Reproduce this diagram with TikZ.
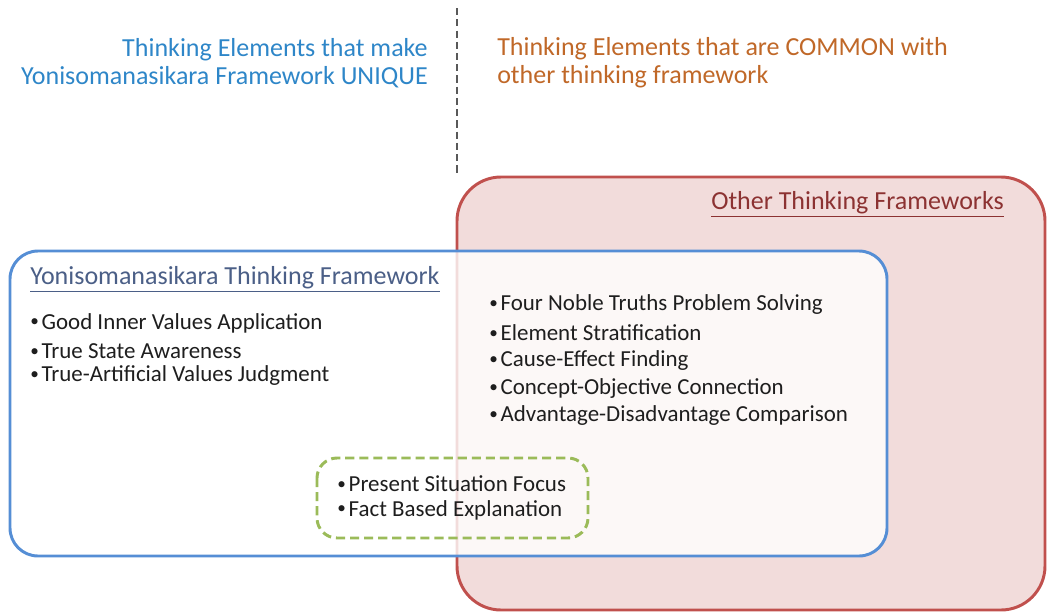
\documentclass[tikz,border=0pt]{standalone}
\usepackage{fontspec}
\setmainfont{Carlito}
\usepackage{tikz}
\usetikzlibrary{positioning}
\definecolor{headblue}{RGB}{46,134,200}
\definecolor{headbrown}{RGB}{192,104,40}
\definecolor{otherfill}{RGB}{242,220,219}
\definecolor{otherline}{RGB}{192,80,77}
\definecolor{othertitle}{RGB}{140,50,50}
\definecolor{yoniline}{RGB}{85,142,213}
\definecolor{yonititle}{RGB}{75,95,135}
\definecolor{sharedline}{RGB}{155,187,89}
\definecolor{itemtext}{RGB}{30,30,30}
\newcommand{\itm}[1]{\raisebox{0.1em}{\scalebox{0.75}{\textbullet}}\kern2pt#1}

\begin{document}
\begin{tikzpicture}[x=0.025cm,y=-0.025cm,
  every node/.style={font=\fontsize{18.5pt}{19.9pt}\selectfont,inner sep=0pt},
  item/.style={anchor=west,text=itemtext,font=\fontsize{16.3pt}{19pt}\selectfont}]
\useasboundingbox (0,0) rectangle (1047,612);
% divider and headings
\draw[black!65,line width=1.4pt,dash pattern=on 5pt off 3pt] (457,8) -- (457,175);
\node[anchor=east,text=headblue,align=right] (uniq) at (428,63)
  {Thinking Elements that make\\Yonisomanasikara Framework UNIQUE};
\node[anchor=west,text=headbrown,align=left] (comm) at (497,63)
  {Thinking Elements that are COMMON with\\other thinking framework};

% other frameworks
\draw[otherline,fill=otherfill,line width=2.1pt,rounded corners=1.1cm] (457,177) rectangle (1045,610);
\node[anchor=west,text=othertitle] (other) at (711,204) {\underline{Other Thinking Frameworks}};

% yonisomanasikara
\fill[white,opacity=0.8,rounded corners=0.7cm] (10,251) rectangle (887,556);
\draw[yoniline,line width=2.1pt,rounded corners=0.7cm] (10,251) rectangle (887,556);
\node[anchor=west,text=yonititle] (yoni) at (30,279) {\underline{Yonisomanasikara Thinking Framework}};

\node[item] (u1) at (30,323) {\itm{Good Inner Values Application}};
\node[item] (u2) at (30,351) {\itm{True State Awareness}};
\node[item] (u3) at (30,376) {\itm{True-Artificial Values Judgment}};

\node[item] (c1) at (489,305) {\itm{Four Noble Truths Problem Solving}};
\node[item] (c2) at (489,333) {\itm{Element Stratification}};
\node[item] (c3) at (489,361) {\itm{Cause-Effect Finding}};
\node[item] (c4) at (489,389) {\itm{Concept-Objective Connection}};
\node[item] (c5) at (489,416) {\itm{Advantage-Disadvantage Comparison}};

% partly shared
\draw[sharedline,line width=2.1pt,dash pattern=on 6.5pt off 3.5pt,rounded corners=0.5cm] (317,458) rectangle (588,538);
\node[item] (s1) at (337,484) {\itm{Present Situation Focus}};
\node[item] (s2) at (337,510) {\itm{Fact Based Explanation}};
\end{tikzpicture}
\end{document}
